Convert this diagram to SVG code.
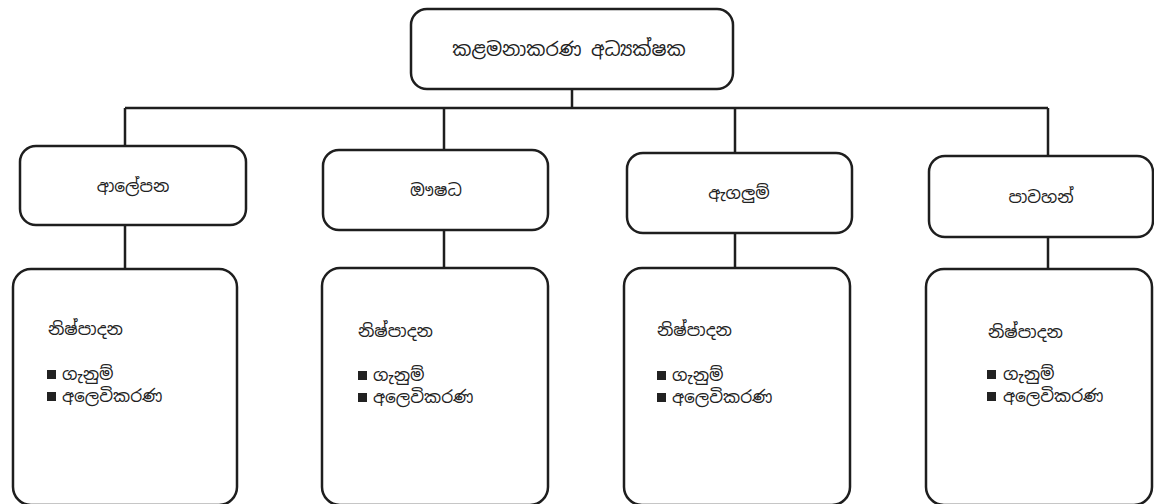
<svg xmlns="http://www.w3.org/2000/svg" width="1154" height="504" viewBox="0 0 1154 504">
<style>
.box{fill:#fff;stroke:#1e1e1e;stroke-width:2.5}
.ln{fill:none;stroke:#1e1e1e;stroke-width:2.5}
.t{font-family:"Noto Sans Sinhala","Noto Serif Sinhala","Iskoola Pota","Noto Sans",sans-serif;font-size:17px;fill:#222}
.h{font-size:19px}
.c{text-anchor:middle}
.b{fill:#222}
</style>
<rect width="1154" height="504" fill="#fff"/>
<g id="connectors">
<path class="ln" d="M125 108H1048M572 89V108M125 108V146M444 108V150M735 108V153M1048 108V156"/>
<path class="ln" d="M125 225V269M444 230V268M735 233V268M1048 237V269"/>
</g>
<g id="director"><rect class="box" x="411" y="9" width="322" height="80" rx="16"/><text class="t h c" x="569" y="56">කළමනාකරණ අධ්‍යක්ෂක</text></g>
<g id="dept1"><rect class="box" x="20" y="146" width="226" height="79" rx="16"/><text class="t c" x="133" y="192">ආලේපන</text></g>
<g id="dept2"><rect class="box" x="323" y="150" width="225" height="80" rx="16"/><text class="t c" x="436" y="196">ඖෂධ</text></g>
<g id="dept3"><rect class="box" x="627" y="153" width="225" height="80" rx="16"/><text class="t c" x="739" y="199">ඇගලුම්</text></g>
<g id="dept4"><rect class="box" x="929" y="156" width="224" height="81" rx="16"/><text class="t c" x="1041" y="203">පාවහන්</text></g>
<g id="sub1"><rect class="box" x="13" y="269" width="224" height="236" rx="18"/>
<text class="t" x="48" y="335">නිෂ්පාදන</text>
<rect class="b" x="47" y="370" width="9" height="9"/><text class="t" x="62" y="380">ගැනුම්</text>
<rect class="b" x="47" y="392" width="9" height="9"/><text class="t" x="62" y="402">අලෙවිකරණ</text></g>
<g id="sub2"><rect class="box" x="322" y="268" width="226" height="237" rx="18"/>
<text class="t" x="358" y="337">නිෂ්පාදන</text>
<rect class="b" x="358" y="371" width="9" height="9"/><text class="t" x="373" y="381">ගැනුම්</text>
<rect class="b" x="358" y="393" width="9" height="9"/><text class="t" x="373" y="403">අලෙවිකරණ</text></g>
<g id="sub3"><rect class="box" x="624" y="268" width="226" height="237" rx="18"/>
<text class="t" x="657" y="336">නිෂ්පාදන</text>
<rect class="b" x="657" y="371" width="9" height="9"/><text class="t" x="672" y="381">ගැනුම්</text>
<rect class="b" x="657" y="393" width="9" height="9"/><text class="t" x="672" y="403">අලෙවිකරණ</text></g>
<g id="sub4"><rect class="box" x="926" y="269" width="226" height="236" rx="18"/>
<text class="t" x="988" y="338">නිෂ්පාදන</text>
<rect class="b" x="987" y="370" width="9" height="9"/><text class="t" x="1003" y="380">ගැනුම්</text>
<rect class="b" x="987" y="392" width="9" height="9"/><text class="t" x="1003" y="402">අලෙවිකරණ</text></g>
</svg>
